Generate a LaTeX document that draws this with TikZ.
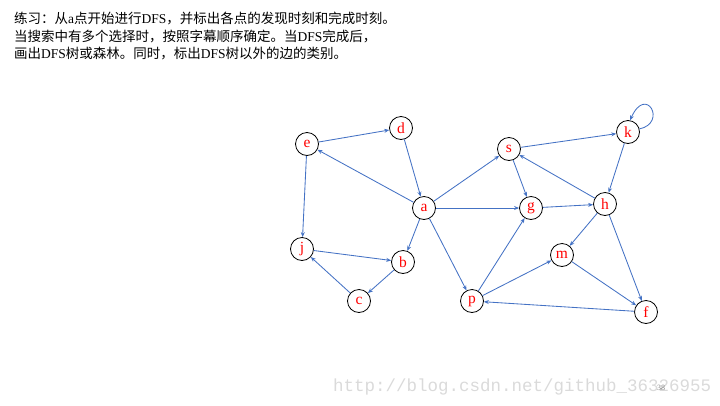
\documentclass[tikz,border=0pt]{standalone}
\usepackage{fontspec}
\setmainfont{Liberation Serif}
\newfontfamily\cjkfont{Noto Sans CJK SC}
\newfontfamily\monofont{Liberation Mono}
\usetikzlibrary{arrows.meta}
\definecolor{edgeblue}{RGB}{68,114,196}
\definecolor{wmgray}{RGB}{218,218,218}
\newcommand\zh[1]{{\cjkfont #1}}
\begin{document}
\begin{tikzpicture}[x=1pt,y=-1pt,
  vtx/.style={circle,draw=black,line width=0.8pt,minimum size=23pt,inner sep=0pt,
    font=\fontsize{15.5}{15.5}\selectfont,text=red,fill=white},
  edge/.style={draw=edgeblue,line width=0.85pt,-{Stealth[length=5pt,width=4pt]}},
  txt/.style={anchor=base west,inner sep=0pt,font=\fontsize{13.5}{16}\selectfont}]
\useasboundingbox (0,0) rectangle (720,405);
% title text
\node[txt] (t1) at (14,23) {\zh{练习：从}a\zh{点开始进行}DFS\zh{，并标出各点的发现时刻和完成时刻。}};
\node[txt] (t2) at (14,41) {\zh{当搜索中有多个选择时，按照字幕顺序确定。当}DFS\zh{完成后，}};
\node[txt] (t3) at (14,58.5) {\zh{画出}DFS\zh{树或森林。同时，标出}DFS\zh{树以外的边的类别。}};
% watermark
\node[anchor=base west,inner sep=0pt,text=wmgray,font=\monofont\fontsize{17.5}{17.5}\selectfont] (wm) at (333,391) {http://blog.csdn.net/github\_36326955};
\node[inner sep=0pt,text=gray,font=\fontsize{8}{8}\selectfont] (pg) at (661,388) {38};
% vertices
\node[vtx] (e) at (307,144) {e};
\node[vtx] (d) at (401,128) {d};
\node[vtx] (a) at (424,208) {a};
\node[vtx] (s) at (509,149) {s};
\node[vtx] (k) at (628,132) {k};
\node[vtx] (g) at (531,208) {g};
\node[vtx] (h) at (605,204) {h};
\node[vtx] (j) at (302,249) {j};
\node[vtx] (b) at (403,262) {b};
\node[vtx] (c) at (359,301) {c};
\node[vtx] (p) at (472,301) {p};
\node[vtx] (m) at (562,255) {m};
\node[vtx] (f) at (646,312) {f};
% edges
\draw[edge] (e) -- (d);
\draw[edge] (d) -- (a);
\draw[edge] (a) -- (e);
\draw[edge] (e) -- (j);
\draw[edge] (j) -- (b);
\draw[edge] (a) -- (b);
\draw[edge] (b) -- (c);
\draw[edge] (c) -- (j);
\draw[edge] (a) -- (s);
\draw[edge] (a) -- (g);
\draw[edge] (a) -- (p);
\draw[edge] (s) -- (k);
\draw[edge] (s) -- (g);
\draw[edge] (k) -- (h);
\draw[edge] (h) -- (s);
\draw[edge] (g) -- (h);
\draw[edge] (h) -- (m);
\draw[edge] (h) -- (f);
\draw[edge] (m) -- (f);
\draw[edge] (p) -- (g);
\draw[edge] (p) -- (m);
\draw[edge] (f) -- (p);
\draw[edge] (k.15) .. controls +(28,-6) and +(16,-36) .. (k.80);
\end{tikzpicture}
\end{document}
